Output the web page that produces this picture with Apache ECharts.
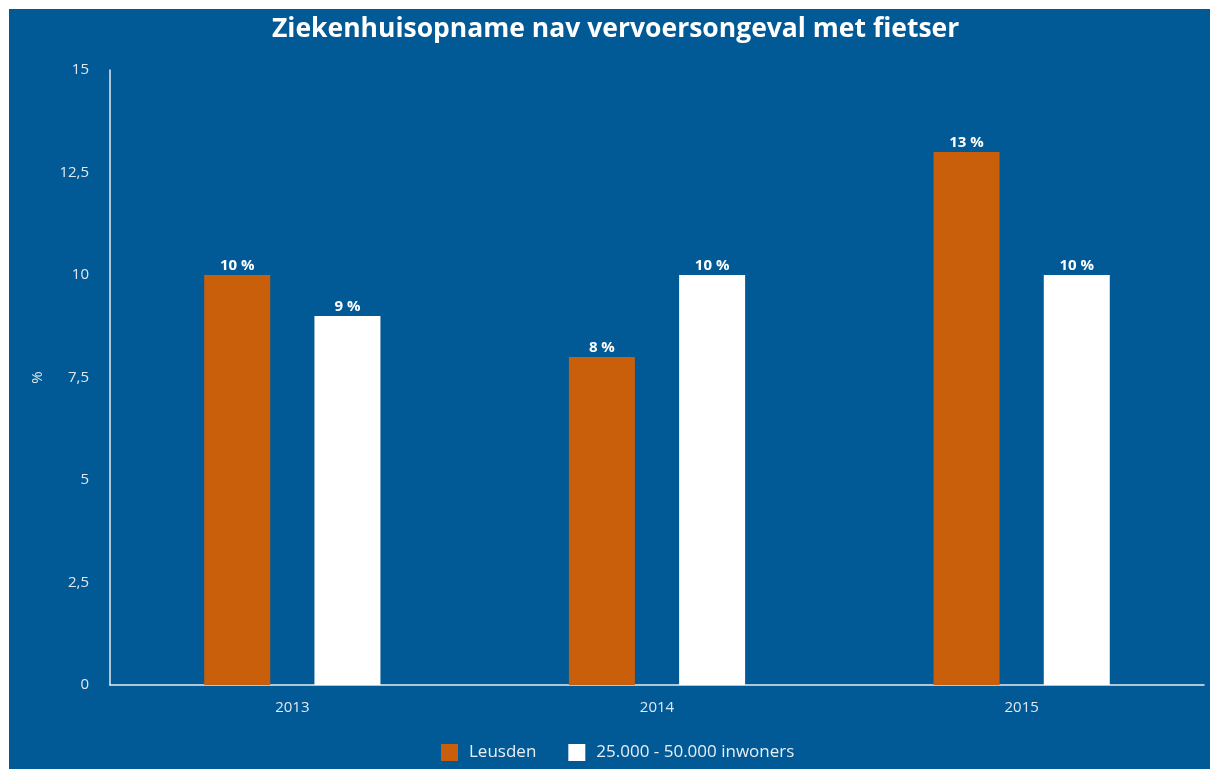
<!DOCTYPE html>
<html>
    <head>
        <meta charset=utf-8>
        <style>
            body { margin: 0; background: #fff; overflow: hidden; }
            #chart { position: absolute; left: 9px; top: 9px; width: 1201px; height: 760px; }
        </style>
    </head>
    <body>
        <div id="chart"></div>
        <script src="https://cdn.jsdelivr.net/npm/echarts@6/dist/echarts.min.js"></script>
        <script type="text/javascript">

            var myChart = echarts.init(document.querySelector('#chart'));

            let years = ['2013', '2014', '2015']
            let leusden = [10, 8, 13]
            let gemeenten = [9, 10, 10]
            let seriesNames = ['Leusden', '25.000 - 50.000 inwoners']

            let labelStyle = {
                show: true,
                position: 'top',
                distance: 2,
                color: '#fff',
                fontWeight: 'bold',
                fontSize: 15,
                formatter: (p) => p.value + ' %'
            }

            let option = {
                backgroundColor: '#015995',
                textStyle: { fontFamily: 'Open Sans' },
                title: {
                    text: 'Ziekenhuisopname nav vervoersongeval met fietser',
                    left: 258,
                    top: 2,
                    textStyle: { color: '#fff', fontSize: 26.5, fontWeight: 'bold', fontFamily: 'Open Sans' }
                },
                legend: {
                    bottom: 3,
                    left: 427,
                    itemWidth: 17,
                    itemHeight: 17,
                    icon: 'rect',
                    itemGap: 32,
                    textStyle: { color: '#e8eef4', fontSize: 17, padding: [0, 0, 0, 6] },
                    data: seriesNames
                },
                grid: { left: 101, right: 6, top: 61, bottom: 84 },
                xAxis: {
                    type: 'category',
                    data: years,
                    axisLine: { lineStyle: { color: '#e6ecf2', width: 1.5 } },
                    axisTick: { show: false },
                    axisLabel: { color: '#e2e8ef', fontSize: 15, margin: 15 }
                },
                yAxis: {
                    type: 'value',
                    min: 0,
                    max: 15,
                    interval: 2.5,
                    name: '%',
                    nameLocation: 'middle',
                    nameGap: 65,
                    nameTextStyle: { color: '#e2e8ef', fontSize: 15 },
                    axisLine: { show: true, lineStyle: { color: '#e6ecf2', width: 1.5 } },
                    axisTick: { show: false },
                    splitLine: { show: false },
                    axisLabel: {
                        color: '#e2e8ef',
                        fontSize: 15,
                        margin: 21,
                        formatter: (v) => String(v).replace('.', ',')
                    }
                },
                series: [
                    {
                        name: seriesNames[0],
                        type: 'bar',
                        data: leusden,
                        barWidth: 66,
                        barGap: '67%',
                        itemStyle: { color: '#c95f0a' },
                        label: labelStyle
                    },
                    {
                        name: seriesNames[1],
                        type: 'bar',
                        data: gemeenten,
                        barWidth: 66,
                        itemStyle: { color: '#ffffff' },
                        label: labelStyle
                    }
                ]
            }
            myChart.setOption(option);
        </script>
    </body>
</html>
